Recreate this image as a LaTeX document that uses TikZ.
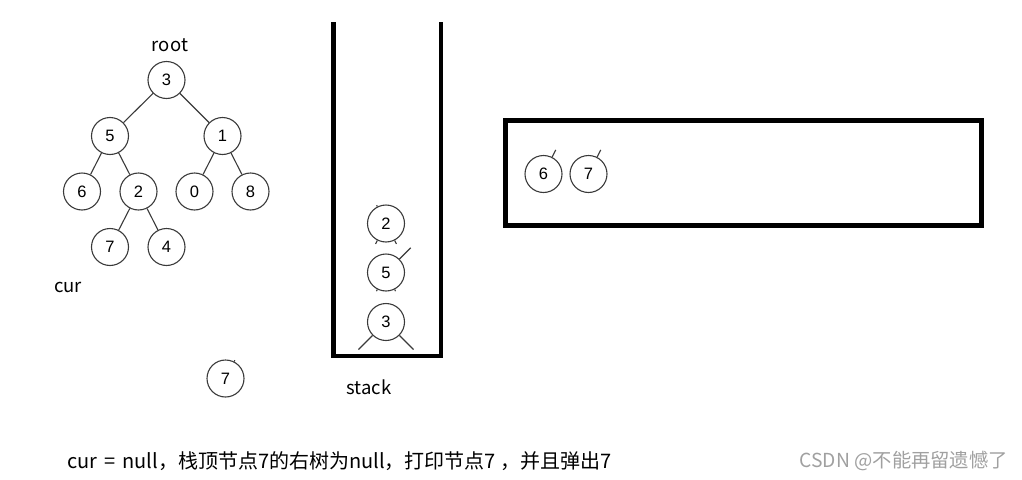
\documentclass[tikz,border=0pt]{standalone}
\usepackage{fontspec}
\setmainfont{Noto Sans CJK SC}
\newfontfamily\digitfont{Liberation Sans}
\usetikzlibrary{calc}
\definecolor{edgegray}{HTML}{3A3A3A}
\definecolor{wmgray}{HTML}{A0A0A0}
\tikzset{
  tnode/.style={circle, draw=edgegray, line width=1.1pt, minimum size=37pt, inner sep=0pt,
    font=\digitfont\fontsize{16.5}{17}\selectfont},
  tedge/.style={draw=edgegray, line width=1.1pt},
  thick box/.style={draw=black, line width=4.5pt},
  lbl/.style={font=\fontsize{18.5}{20}\selectfont, inner sep=0pt},
}
\begin{document}
\begin{tikzpicture}[x=1pt, y=-1pt]
\useasboundingbox (0,0) rectangle (1022,479);
% tree
\node[lbl] (root) at (170,45) {root};
\node[tnode] (n3) at (166.5,80) {3};
\node[tnode] (n5) at (110,136) {5};
\node[tnode] (n1) at (222.5,136) {1};
\node[tnode] (n6) at (82,191.5) {6};
\node[tnode] (n2) at (138.5,191.5) {2};
\node[tnode] (n0) at (194.5,191.5) {0};
\node[tnode] (n8) at (250.5,191.5) {8};
\node[tnode] (n7) at (110,247) {7};
\node[tnode] (n4) at (166.5,247) {4};
\draw[tedge] (n3) -- (n5);
\draw[tedge] (n3) -- (n1);
\draw[tedge] (n5) -- (n6);
\draw[tedge] (n5) -- (n2);
\draw[tedge] (n1) -- (n0);
\draw[tedge] (n1) -- (n8);
\draw[tedge] (n2) -- (n7);
\draw[tedge] (n2) -- (n4);
\node[lbl] (cur) at (68,287) {cur};
% current node
\node[tnode] (c7) at (225.5,378.5) {7};
\draw[tedge] (c7.63) -- ($(c7.center)!20.5pt!(c7.63)$);
% stack
\coordinate (sTL) at (333.5,22);
\coordinate (sBL) at (333.5,356);
\coordinate (sBR) at (441,356);
\coordinate (sTR) at (441,22);
\draw[thick box] (sTL) -- (sBL) -- (sBR) -- (sTR);
\node[tnode] (s2) at (386,223.5) {2};
\node[tnode] (s5) at (386,272.5) {5};
\node[tnode] (s3) at (386,322) {3};
\draw[tedge] (s2.117) -- ($(s2.center)!20.5pt!(s2.117)$);
\draw[tedge] (s2.-117) -- ($(s2.center)!23pt!(s2.-117)$);
\draw[tedge] (s2.-63) -- ($(s2.center)!23pt!(s2.-63)$);
\draw[tedge] (s5.45) -- ($(s5.center)!35pt!(s5.45)$);
\draw[tedge] (s5.-117) -- ($(s5.center)!21pt!(s5.-117)$);
\draw[tedge] (s5.-63) -- ($(s5.center)!21pt!(s5.-63)$);
\draw[tedge] (s3.-135) -- ($(s3.center)!39pt!(s3.-135)$);
\draw[tedge] (s3.-45) -- ($(s3.center)!39pt!(s3.-45)$);
\node[lbl] (stack) at (369,387) {stack};
% output box
\node[thick box, minimum width=476pt, minimum height=105pt, inner sep=0pt] (out) at (743.5,173) {};
\node[tnode] (o6) at (543.5,174) {6};
\node[tnode] (o7) at (588.5,174) {7};
\draw[tedge] (o6.63) -- ($(o6.center)!27pt!(o6.63)$);
\draw[tedge] (o7.63) -- ($(o7.center)!27pt!(o7.63)$);
% caption
\node[lbl, anchor=west, font=\fontsize{20}{22}\selectfont] (cap) at (67,461) {cur\hspace{0.35em}=\hspace{0.35em}null，栈顶节点7的右树为null，打印节点7 ，并且弹出7};
\node[lbl, anchor=east, text=wmgray, font=\fontsize{19.3}{21}\selectfont] (wm) at (1008,461) {CSDN @不能再留遗憾了};
\end{tikzpicture}
\end{document}
